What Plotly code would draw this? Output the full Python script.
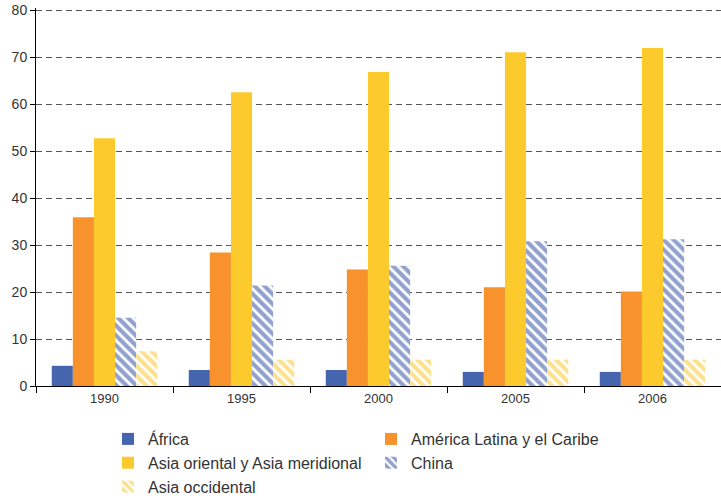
import plotly.graph_objects as go

years = ["1990", "1995", "2000", "2005", "2006"]
africa = [4.3, 3.4, 3.4, 3.0, 3.0]
latam = [35.9, 28.4, 24.8, 21.0, 20.1]
asia_es = [52.7, 62.5, 66.8, 71.0, 71.9]
china = [14.5, 21.4, 25.6, 30.8, 31.2]
asia_w = [7.4, 5.6, 5.6, 5.6, 5.6]

FONT = "Liberation Sans, Arial, sans-serif"

fig = go.Figure()
fig.add_bar(x=years, y=africa, name="África", marker=dict(color="#4565AE", line=dict(width=0)))
fig.add_bar(x=years, y=latam, name="América Latina y el Caribe", marker=dict(color="#F7922D", line=dict(width=0)))
fig.add_bar(x=years, y=asia_es, name="Asia oriental y Asia meridional", marker=dict(color="#FDCA2E", line=dict(width=0)))
fig.add_bar(x=years, y=china, name="China",
            marker=dict(color="white", line=dict(width=0),
                        pattern=dict(shape="\\", fgcolor="#24449E", bgcolor="white", size=7, solidity=0.6, fillmode="overlay")))
fig.add_bar(x=years, y=asia_w, name="Asia occidental",
            marker=dict(color="white", line=dict(width=0),
                        pattern=dict(shape="\\", fgcolor="#FCC21A", bgcolor="white", size=7, solidity=0.6, fillmode="overlay")))

fig.update_layout(
    width=721, height=498,
    margin=dict(l=36, r=0, t=8, b=112, autoexpand=False),
    barmode="group", bargap=0.23, bargroupgap=0,
    plot_bgcolor="white", paper_bgcolor="white",
    font=dict(family=FONT, size=13, color="#333333"),
    showlegend=True,
    legend=dict(orientation="h", xref="container", yref="container",
                x=0.1498, xanchor="left", y=0.1526, yanchor="top",
                entrywidth=218, entrywidthmode="pixels", traceorder="normal",
                font=dict(size=16, color="#333333")),
)
fig.update_xaxes(type="category", showline=True, linecolor="black", linewidth=1,
                 ticks="outside", tickson="boundaries", ticklen=6, tickcolor="black",
                 showgrid=False, tickfont=dict(size=13), automargin=False)
fig.update_yaxes(range=[0, 80.43], tickvals=[0, 10, 20, 30, 40, 50, 60, 70, 80],
                 showline=True, linecolor="black", linewidth=1,
                 ticks="outside", ticklen=5, tickcolor="black",
                 showgrid=True, gridcolor="#555555", griddash="6px,4px", gridwidth=1,
                 zeroline=False, tickfont=dict(size=14), automargin=False)

fig.write_html("out.html", config={"displayModeBar": False},
               post_script="document.body.style.margin='0';document.body.style.overflow='hidden';")
